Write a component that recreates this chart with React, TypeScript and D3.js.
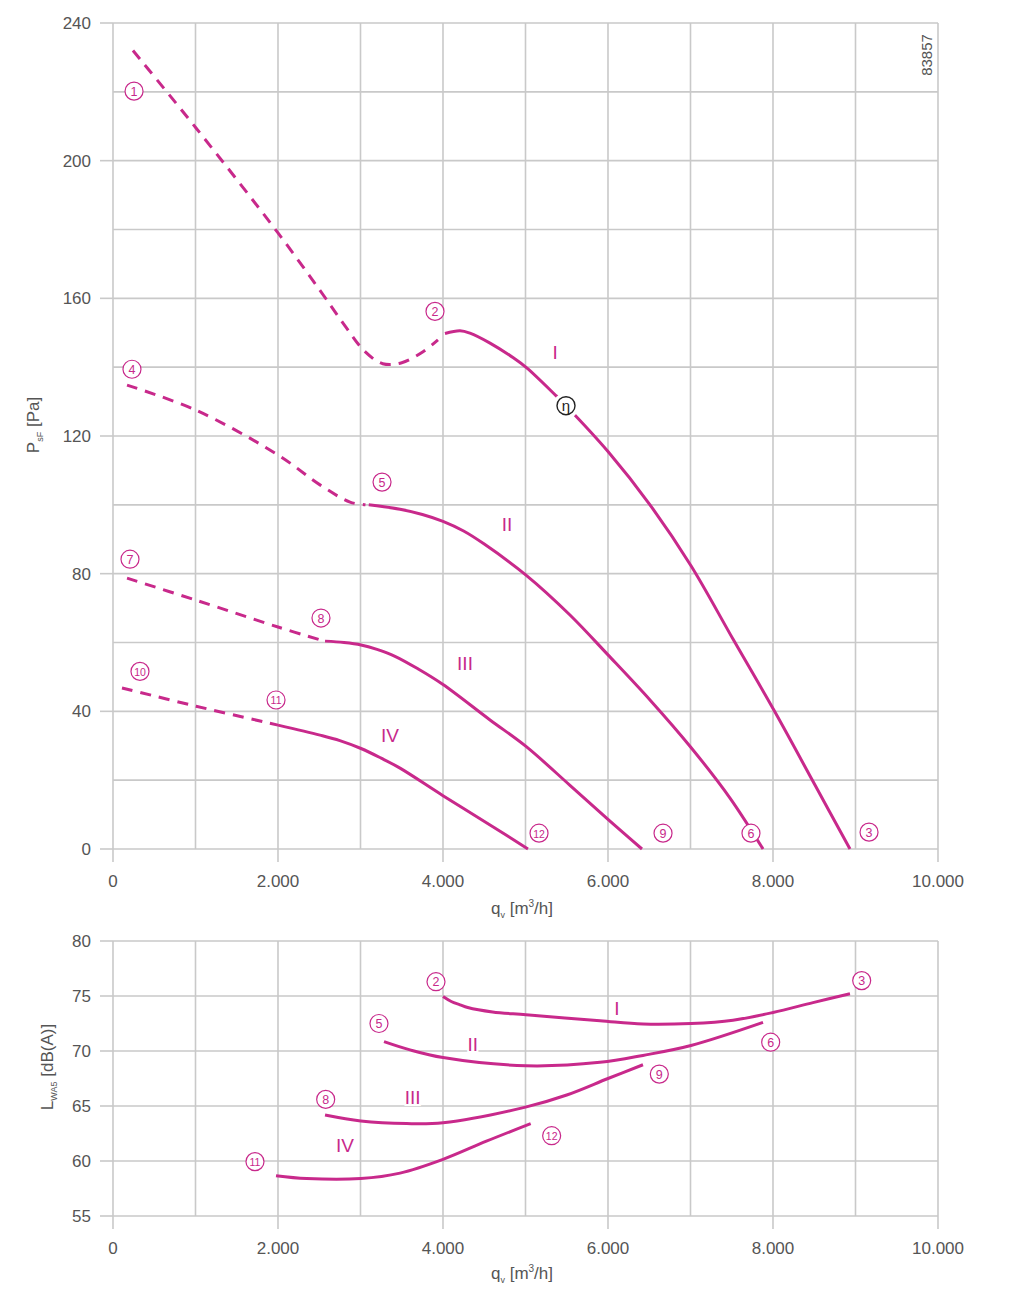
import React from "react";
import * as d3 from "d3";

type Pt = [number, number];
type Marker = [string, number, number];

const MAGENTA = "#c8298b";
const GRID = "#c9c9c9";
const TEXT = "#555";
const FONT = "'Liberation Sans', Arial, Helvetica, sans-serif";

// shared flow axis
const flowTicks = [0, 2000, 4000, 6000, 8000, 10000];
const flowGrid = [0, 1000, 2000, 3000, 4000, 5000, 6000, 7000, 8000, 9000, 10000];

// pressure panel axis
const pressureTicks = [0, 40, 80, 120, 160, 200, 240];
const pressureGrid = [0, 20, 40, 60, 80, 100, 120, 140, 160, 180, 200, 220, 240];

// sound panel axis
const soundTicks = [55, 60, 65, 70, 75, 80];

// pressure curves [q m3/h, psF Pa]
const pDashI: Pt[] = [[242, 232], [1006, 209.5], [2000, 179], [2509, 162.3], [2812, 152], [3055, 144.5], [3270, 141], [3500, 141.3], [3758, 144.5], [3939, 147.9]];
const pSolidI: Pt[] = [[4024, 149.8], [4206, 150.6], [4327, 149.9], [4570, 147], [4848, 142.8], [5015, 139.8], [5358, 132], [5491, 128.8], [6000, 115.5], [6509, 100], [7006, 82.3], [7515, 61], [8024, 39.8], [8509, 18.6], [8933, 0]];
const pDashII: Pt[] = [[170, 134.8], [1006, 127.5], [2000, 114.5], [2509, 105.8], [2873, 100.8], [3060, 100]];
const pSolidII: Pt[] = [[3100, 100], [3479, 98.7], [3750, 97.2], [4000, 95.2], [4250, 92.4], [4500, 88.6], [5006, 79.6], [5539, 68], [6000, 56.4], [6509, 43.3], [7006, 29.5], [7479, 14.8], [7879, 0]];
const pDashIII: Pt[] = [[170, 78.7], [1006, 72.3], [2000, 64.5], [2560, 60.4]];
const pSolidIII: Pt[] = [[2570, 60.4], [2800, 60], [3006, 59.3], [3200, 58], [3418, 56], [3700, 52.3], [4000, 47.8], [4570, 37.5], [5006, 29.8], [5539, 18.5], [6000, 8.6], [6412, 0]];
const pDashIV: Pt[] = [[109, 46.8], [1006, 41.5], [2000, 36]];
const pSolidIV: Pt[] = [[2000, 36], [2509, 33.1], [2750, 31.5], [3006, 29.2], [3250, 26.4], [3479, 23.5], [4000, 15.5], [4570, 7], [5030, 0]];

// sound curves [q m3/h, LWA5 dB(A)]
const sI: Pt[] = [[4000, 74.95], [4100, 74.5], [4206, 74.2], [4300, 73.95], [4600, 73.55], [5006, 73.3], [5903, 72.75], [6424, 72.45], [7006, 72.5], [7515, 72.8], [8000, 73.5], [8485, 74.4], [8933, 75.2]];
const sII: Pt[] = [[3285, 70.85], [3600, 70.1], [4000, 69.4], [5006, 68.66], [5903, 68.97], [6424, 69.6], [7006, 70.5], [7879, 72.6]];
const sIII: Pt[] = [[2570, 64.18], [3003, 63.64], [3560, 63.4], [4000, 63.48], [5000, 64.9], [5500, 66], [6000, 67.5], [6424, 68.75]];
const sIV: Pt[] = [[1976, 58.66], [2347, 58.4], [3003, 58.4], [3479, 58.9], [4000, 60.15], [4526, 61.8], [5063, 63.4]];

// circled operating points
const pressureMarkers: Marker[] = [
  ["1", 255, 220.2], ["2", 3903, 156.2], ["3", 9164, 4.9], ["4", 230, 139.4],
  ["5", 3261, 106.6], ["6", 7733, 4.6], ["7", 206, 84.2], ["8", 2521, 67.1],
  ["9", 6667, 4.6], ["10", 327, 51.6], ["11", 1976, 43.3], ["12", 5164, 4.6],
];
const soundMarkers: Marker[] = [
  ["2", 3915, 76.3], ["3", 9075, 76.4], ["5", 3224, 72.5], ["6", 7972, 70.8],
  ["8", 2578, 65.6], ["9", 6622, 67.9], ["11", 1721, 59.94], ["12", 5317, 62.3],
];
const pressureRoman: Marker[] = [["I", 5358, 144.4], ["II", 4776, 94.4], ["III", 4267, 54], ["IV", 3358, 33.1]];
const soundRoman: Marker[] = [["I", 6109, 73.9], ["II", 4360, 70.6], ["III", 3633, 65.85], ["IV", 2812, 61.5]];
const etaPoint: Pt = [5491, 128.8];

const fmt = d3.formatLocale({ decimal: ",", thousands: ".", grouping: [3], currency: ["", ""] }).format(",");

const xP = d3.scaleLinear().domain([0, 10000]).range([113, 938]);
const yP = d3.scaleLinear().domain([0, 240]).range([849, 23]);
const xS = d3.scaleLinear().domain([0, 10000]).range([113, 938]);
const yS = d3.scaleLinear().domain([55, 80]).range([1216, 941]);

const Panel: React.FC<{
  x: d3.ScaleLinear<number, number>;
  y: d3.ScaleLinear<number, number>;
  yGrid: number[];
  yTicks: number[];
}> = ({ x, y, yGrid, yTicks }) => {
  const [y0, y1] = y.range();
  const [x0, x1] = x.range();
  return (
    <g>
      {flowGrid.map((v) => (
        <line key={"v" + v} x1={x(v)} x2={x(v)} y1={y1} y2={y0} stroke={GRID} strokeWidth={1.6} />
      ))}
      {yGrid.map((v) => (
        <line key={"h" + v} x1={x0} x2={x1} y1={y(v)} y2={y(v)} stroke={GRID} strokeWidth={1.6} />
      ))}
      {flowTicks.map((v) => (
        <g key={"xt" + v}>
          <line x1={x(v)} x2={x(v)} y1={y0} y2={y0 + 13} stroke={GRID} strokeWidth={1.6} />
          <text x={x(v)} y={y0 + 38} textAnchor="middle" fontSize={17} fill={TEXT}>{fmt(v)}</text>
        </g>
      ))}
      {yTicks.map((v) => (
        <g key={"yt" + v}>
          <line x1={x0 - 13} x2={x0} y1={y(v)} y2={y(v)} stroke={GRID} strokeWidth={1.6} />
          <text x={x0 - 22} y={y(v) + 6} textAnchor="end" fontSize={17} fill={TEXT}>{v}</text>
        </g>
      ))}
    </g>
  );
};

const Circled: React.FC<{ m: Marker; x: d3.ScaleLinear<number, number>; y: d3.ScaleLinear<number, number> }> = ({ m, x, y }) => (
  <g transform={`translate(${x(m[1])},${y(m[2])})`}>
    <circle r={9} fill="#fff" stroke={MAGENTA} strokeWidth={1.2} />
    <text y={4.5} textAnchor="middle" fontSize={m[0].length > 1 ? 10.5 : 12.5} fill={MAGENTA}>{m[0]}</text>
  </g>
);

const Roman: React.FC<{ m: Marker; x: d3.ScaleLinear<number, number>; y: d3.ScaleLinear<number, number> }> = ({ m, x, y }) => (
  <text
    x={x(m[1])}
    y={y(m[2]) + 7}
    textAnchor="middle"
    fontSize={19}
    fill={MAGENTA}
    stroke="#fff"
    strokeWidth={4}
    style={{ paintOrder: "stroke" }}
  >
    {m[0]}
  </text>
);

export default function App() {
  const curve = d3.curveCatmullRom.alpha(0.5);
  const lineP = d3.line<Pt>().x((d) => xP(d[0])).y((d) => yP(d[1])).curve(curve);
  const lineS = d3.line<Pt>().x((d) => xS(d[0])).y((d) => yS(d[1])).curve(curve);

  const dashed = [pDashI, pDashII, pDashIII, pDashIV];
  const solid = [pSolidI, pSolidII, pSolidIII, pSolidIV];
  const sound = [sI, sII, sIII, sIV];

  return (
    <svg
      width={1018}
      height={1298}
      style={{ position: "absolute", left: 0, top: 0, background: "#fff" }}
      fontFamily={FONT}
    >
      <Panel x={xP} y={yP} yGrid={pressureGrid} yTicks={pressureTicks} />
      <Panel x={xS} y={yS} yGrid={soundTicks} yTicks={soundTicks} />

      {/* pressure curves */}
      {dashed.map((d, i) => (
        <path key={"d" + i} d={lineP(d) || ""} fill="none" stroke={MAGENTA} strokeWidth={3} strokeDasharray="11,8" />
      ))}
      {solid.map((d, i) => (
        <path key={"s" + i} d={lineP(d) || ""} fill="none" stroke={MAGENTA} strokeWidth={3} />
      ))}

      {/* efficiency marker */}
      <g transform={`translate(${xP(etaPoint[0])},${yP(etaPoint[1])})`}>
        <circle r={13} fill="#fff" />
        <circle r={9} fill="#fff" stroke="#222" strokeWidth={1.4} />
        <text y={5} textAnchor="middle" fontSize={15} fill="#222">η</text>
      </g>

      {pressureMarkers.map((m) => <Circled key={"pm" + m[0]} m={m} x={xP} y={yP} />)}
      {pressureRoman.map((m) => <Roman key={"pr" + m[0]} m={m} x={xP} y={yP} />)}

      {/* sound curves */}
      {sound.map((d, i) => (
        <path key={"l" + i} d={lineS(d) || ""} fill="none" stroke={MAGENTA} strokeWidth={3} />
      ))}
      {soundMarkers.map((m) => <Circled key={"sm" + m[0]} m={m} x={xS} y={yS} />)}
      {soundRoman.map((m) => <Roman key={"sr" + m[0]} m={m} x={xS} y={yS} />)}

      {/* axis titles */}
      <text transform="translate(39,425) rotate(-90)" textAnchor="middle" fontSize={17} fill={TEXT}>
        P<tspan fontSize={9} dy={4}>sF</tspan><tspan dy={-4}> [Pa]</tspan>
      </text>
      <text transform="translate(53,1067) rotate(-90)" textAnchor="middle" fontSize={17} fill={TEXT}>
        L<tspan fontSize={9} dy={4}>WA5</tspan><tspan dy={-4}> [dB(A)]</tspan>
      </text>
      <text x={522} y={914} textAnchor="middle" fontSize={17} fill={TEXT}>
        q<tspan fontSize={9} dy={4}>v</tspan><tspan dy={-4}> [m</tspan><tspan fontSize={10} dy={-7}>3</tspan><tspan dy={7}>/h]</tspan>
      </text>
      <text x={522} y={1279} textAnchor="middle" fontSize={17} fill={TEXT}>
        q<tspan fontSize={9} dy={4}>v</tspan><tspan dy={-4}> [m</tspan><tspan fontSize={10} dy={-7}>3</tspan><tspan dy={7}>/h]</tspan>
      </text>
      <text transform="translate(932,55) rotate(-90)" textAnchor="middle" fontSize={15} fill={TEXT}>83857</text>
    </svg>
  );
}
